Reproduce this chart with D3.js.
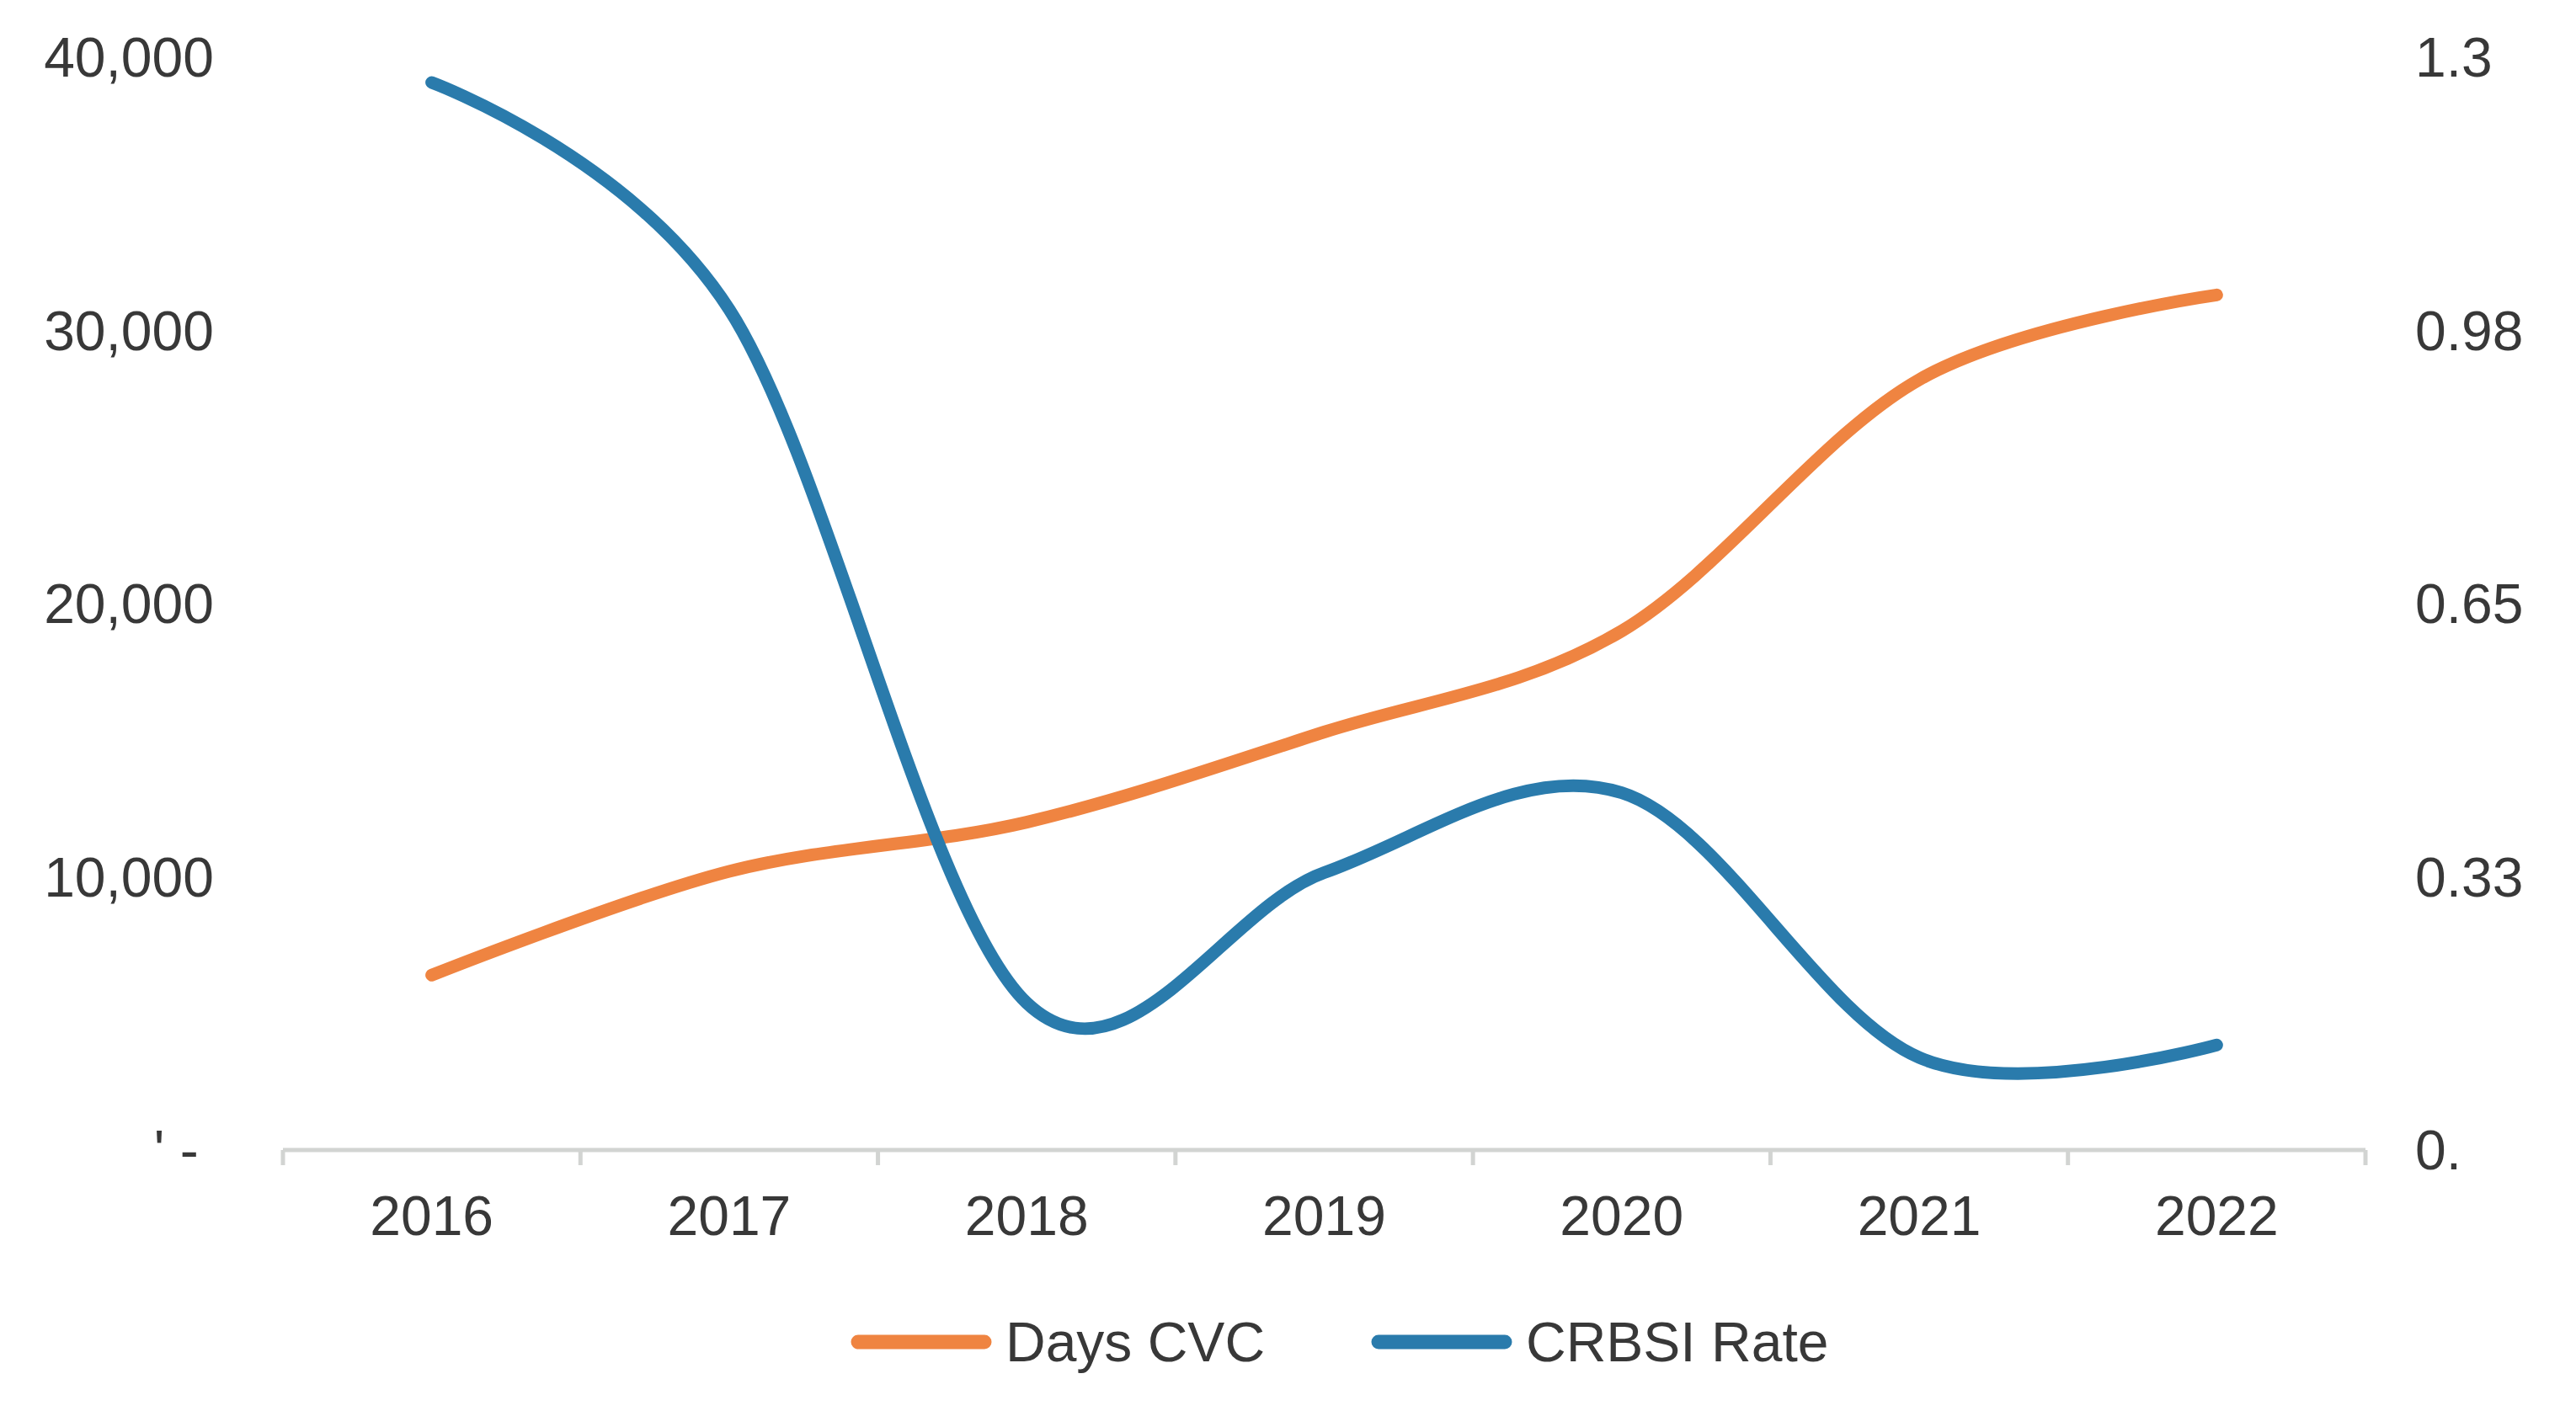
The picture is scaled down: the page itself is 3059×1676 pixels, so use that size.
<!DOCTYPE html>
<html>
<head>
<meta charset="utf-8">
<script src="https://cdn.jsdelivr.net/npm/d3@7"></script>
<style>
  body { margin: 0; background: #fff; }
  text { font-family: "Liberation Sans", Arial, sans-serif; fill: #383838; white-space: pre; }
</style>
</head>
<body>
<div id="chart"></div>
<script>
// Data
const years = ["2016", "2017", "2018", "2019", "2020", "2021", "2022"];
const daysCVC = [6400, 10200, 12000, 15300, 19000, 28200, 31300];
const crbsiRate = [1.27, 1.0, 0.175, 0.33, 0.425, 0.11, 0.125];

const leftTicks = [0, 10000, 20000, 30000, 40000];
const leftLabels = ["' - ", "10,000", "20,000", "30,000", "40,000"];
const rightTicks = [0, 0.325, 0.65, 0.975, 1.3];
const rightLabels = ["0.", "0.33", "0.65", "0.98", "1.3"];

const seriesNames = ["Days CVC", "CRBSI Rate"];
const seriesColors = ["#EF8441", "#2A7BAC"];

// Chart dimensions
const width = 3059;
const height = 1676;
const plotLeft = 336, plotRight = 2809;
const plotTop = 68, plotBottom = 1366;
const fontSize = "66px";

const svg = d3.select("#chart").append("svg")
  .attr("width", width)
  .attr("height", height);

// Scales
const x = d3.scaleBand().domain(years).range([plotLeft, plotRight]).padding(0);
const yLeft = d3.scaleLinear().domain([0, 40000]).range([plotBottom, plotTop]);
const yRight = d3.scaleLinear().domain([0, 1.3]).range([plotBottom, plotTop]);

// Left axis labels
svg.append("g").selectAll("text").data(leftTicks).join("text")
  .attr("x", 254)
  .attr("y", d => yLeft(d))
  .attr("dy", "0.35em")
  .attr("text-anchor", "end")
  .style("font-size", fontSize)
  .text((d, i) => leftLabels[i]);

// Right axis labels
svg.append("g").selectAll("text").data(rightTicks).join("text")
  .attr("x", 2868)
  .attr("y", d => yRight(d))
  .attr("dy", "0.35em")
  .attr("text-anchor", "start")
  .style("font-size", fontSize)
  .text((d, i) => rightLabels[i]);

// X axis line with ticks between categories
const xAxis = svg.append("g");
xAxis.append("line")
  .attr("x1", plotLeft).attr("x2", plotRight)
  .attr("y1", plotBottom).attr("y2", plotBottom)
  .attr("stroke", "#D2D4D2").attr("stroke-width", 5);

const boundaries = years.map(d => x(d)).concat([x(years[years.length - 1]) + x.bandwidth()]);
xAxis.selectAll(".tick").data(boundaries).join("line")
  .attr("class", "tick")
  .attr("x1", d => d).attr("x2", d => d)
  .attr("y1", plotBottom).attr("y2", plotBottom + 18)
  .attr("stroke", "#D2D4D2").attr("stroke-width", 5);

xAxis.selectAll("text").data(years).join("text")
  .attr("x", d => x(d) + x.bandwidth() / 2)
  .attr("y", 1444)
  .attr("dy", "0.35em")
  .attr("text-anchor", "middle")
  .style("font-size", fontSize)
  .text(d => d);

// Smoothed lines
const cx = (d, i) => x(years[i]) + x.bandwidth() / 2;

const lineLeft = d3.line().x(cx).y(d => yLeft(d)).curve(d3.curveCardinal.tension(0));
const lineRight = d3.line().x(cx).y(d => yRight(d)).curve(d3.curveCardinal.tension(0));

svg.append("path")
  .datum(daysCVC)
  .attr("d", lineLeft)
  .attr("fill", "none")
  .attr("stroke", seriesColors[0])
  .attr("stroke-width", 15)
  .attr("stroke-linecap", "round")
  .attr("stroke-linejoin", "round");

svg.append("path")
  .datum(crbsiRate)
  .attr("d", lineRight)
  .attr("fill", "none")
  .attr("stroke", seriesColors[1])
  .attr("stroke-width", 15)
  .attr("stroke-linecap", "round")
  .attr("stroke-linejoin", "round");

// Legend
const legendY = 1594;
const legendX = [1011, 1629];
const legend = svg.append("g").selectAll("g").data(seriesNames).join("g")
  .attr("transform", (d, i) => `translate(${legendX[i]},${legendY})`);

legend.append("line")
  .attr("x1", 8).attr("x2", 158)
  .attr("y1", 0).attr("y2", 0)
  .attr("stroke", (d, i) => seriesColors[i])
  .attr("stroke-width", 17)
  .attr("stroke-linecap", "round");

legend.append("text")
  .attr("x", 183)
  .attr("y", 0)
  .attr("dy", "0.35em")
  .style("font-size", fontSize)
  .text(d => d);
</script>
</body>
</html>
